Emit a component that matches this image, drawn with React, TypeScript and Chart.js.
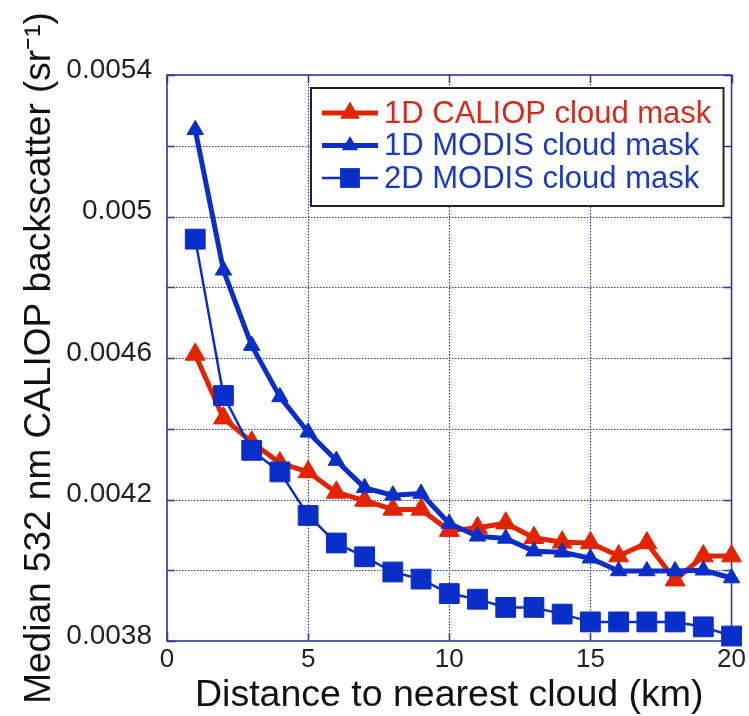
import React, { useEffect, useRef } from 'react';
import { Chart, registerables } from 'chart.js';

Chart.register(...registerables);

// ---- data ----
const distanceKm = [1, 2, 3, 4, 5, 6, 7, 8, 9, 10, 11, 12, 13, 14, 15, 16, 17, 18, 19, 20];
const caliop1D = [0.00461, 0.00443, 0.004362, 0.004303, 0.004278, 0.00422, 0.004197, 0.004172, 0.004172, 0.004112, 0.00412, 0.004133, 0.004092, 0.004079, 0.004077, 0.00404, 0.004077, 0.003972, 0.00404, 0.00404];
const modis1D = [0.005245, 0.004848, 0.004635, 0.00449, 0.00439, 0.00431, 0.004233, 0.004212, 0.004217, 0.004132, 0.004096, 0.00409, 0.004054, 0.004051, 0.004034, 0.003998, 0.003998, 0.003998, 0.004, 0.003978];
const modis2D = [0.004936, 0.004494, 0.004339, 0.004278, 0.004155, 0.004077, 0.004038, 0.003995, 0.003975, 0.003934, 0.003918, 0.003895, 0.003895, 0.003876, 0.003854, 0.003854, 0.003854, 0.003854, 0.00384, 0.003814];
const seriesLabels = ['1D CALIOP cloud mask', '1D MODIS cloud mask', '2D MODIS cloud mask'];
const yLabelledTicks = [0.0038, 0.0042, 0.0046, 0.005, 0.0054];
const xTitle = 'Distance to nearest cloud (km)';
const yTitle = 'Median 532 nm CALIOP backscatter (sr\u207B\u00B9)';

const RED = '#e32400';
const BLUE = '#0a2ec8';
const RED_TEXT = '#d62a1c';
const BLUE_TEXT = '#1b3cc0';
const FRAME = '#2b3a98';
const FONT = '"Liberation Sans", Arial, Helvetica, sans-serif';

function drawMarker(ctx: CanvasRenderingContext2D, style: string, x: number, y: number, r: number, color: string) {
  ctx.fillStyle = color;
  ctx.beginPath();
  if (style === 'triangle') {
    const h = Math.sin(Math.PI / 3) * r;
    ctx.moveTo(x, y - r);
    ctx.lineTo(x + h, y + r / 2);
    ctx.lineTo(x - h, y + r / 2);
    ctx.closePath();
  } else {
    const s = r * Math.SQRT1_2;
    ctx.rect(x - s, y - s, 2 * s, 2 * s);
  }
  ctx.fill();
}

const framePlugin = {
  id: 'frameGrid',
  beforeDatasetsDraw(chart: any) {
    const { ctx, chartArea: a, scales } = chart;
    const xs = scales.x;
    const ys = scales.y;
    ctx.save();
    // dotted grid
    ctx.strokeStyle = FRAME;
    ctx.lineWidth = 1.2;
    ctx.setLineDash([1.5, 1.5]);
    xs.ticks.forEach((t: any) => {
      if (t.value <= xs.min || t.value >= xs.max) return;
      const px = Math.round(xs.getPixelForValue(t.value)) + 0.5;
      ctx.beginPath();
      ctx.moveTo(px, a.top);
      ctx.lineTo(px, a.bottom);
      ctx.stroke();
    });
    ys.ticks.forEach((t: any) => {
      if (t.value <= ys.min + 1e-9 || t.value >= ys.max - 1e-9) return;
      const py = Math.round(ys.getPixelForValue(t.value)) + 0.5;
      ctx.beginPath();
      ctx.moveTo(a.left, py);
      ctx.lineTo(a.right, py);
      ctx.stroke();
    });
    ctx.setLineDash([]);
    // inward tick marks
    ctx.lineWidth = 1.5;
    const tl = 8;
    xs.ticks.forEach((t: any) => {
      const px = Math.round(xs.getPixelForValue(t.value)) + 0.5;
      ctx.beginPath();
      ctx.moveTo(px, a.top);
      ctx.lineTo(px, a.top + tl);
      ctx.moveTo(px, a.bottom);
      ctx.lineTo(px, a.bottom - tl);
      ctx.stroke();
    });
    ys.ticks.forEach((t: any) => {
      const py = Math.round(ys.getPixelForValue(t.value)) + 0.5;
      ctx.beginPath();
      ctx.moveTo(a.left, py);
      ctx.lineTo(a.left + tl, py);
      ctx.moveTo(a.right, py);
      ctx.lineTo(a.right - tl, py);
      ctx.stroke();
    });
    // frame
    ctx.lineWidth = 1.6;
    ctx.strokeRect(a.left, a.top, a.right - a.left, a.bottom - a.top);
    ctx.restore();
  },
};

const legendPlugin = {
  id: 'boxLegend',
  afterDatasetsDraw(chart: any) {
    const { ctx, chartArea: a } = chart;
    const left = a.left + 144;
    const top = a.top + 13;
    const right = a.right - 8;
    const rowH = 32.5;
    const n = chart.data.datasets.length;
    const height = 25 + (n - 1) * rowH + 28;
    ctx.save();
    ctx.fillStyle = '#ffffff';
    ctx.fillRect(left, top, right - left, height);
    ctx.strokeStyle = '#222222';
    ctx.lineWidth = 2;
    ctx.strokeRect(left, top, right - left, height);
    chart.data.datasets.forEach((ds: any, i: number) => {
      const y = top + 25 + i * rowH;
      ctx.strokeStyle = ds.borderColor;
      ctx.lineWidth = ds.borderWidth;
      ctx.beginPath();
      ctx.moveTo(left + 11, y);
      ctx.lineTo(left + 67, y);
      ctx.stroke();
      drawMarker(ctx, ds.pointStyle, left + 39, y, ds.pointRadius, ds.borderColor);
      ctx.fillStyle = ds.legendTextColor;
      ctx.font = `31px ${FONT}`;
      ctx.textAlign = 'left';
      ctx.textBaseline = 'middle';
      ctx.fillText(ds.label, left + 73, y + 1);
    });
    ctx.restore();
  },
};

function toPoints(values: number[]) {
  return distanceKm.map((d, i) => ({ x: d, y: values[i] }));
}

export default function App() {
  const ref = useRef<HTMLCanvasElement | null>(null);

  useEffect(() => {
    if (!ref.current) return;
    const chart = new Chart(ref.current, {
      type: 'line',
      data: {
        datasets: [
          {
            label: seriesLabels[0],
            data: toPoints(caliop1D),
            borderColor: RED,
            backgroundColor: RED,
            borderWidth: 5,
            pointStyle: 'triangle',
            pointRadius: 11.5,
            pointBorderWidth: 1,
            pointBackgroundColor: RED,
            pointBorderColor: RED,
            borderJoinStyle: 'round',
            clip: false,
            order: 3,
            legendTextColor: RED_TEXT,
          } as any,
          {
            label: seriesLabels[1],
            data: toPoints(modis1D),
            borderColor: BLUE,
            backgroundColor: BLUE,
            borderWidth: 5,
            pointStyle: 'triangle',
            pointRadius: 9.5,
            pointBorderWidth: 1,
            pointBackgroundColor: BLUE,
            pointBorderColor: BLUE,
            borderJoinStyle: 'round',
            clip: false,
            order: 2,
            legendTextColor: BLUE_TEXT,
          } as any,
          {
            label: seriesLabels[2],
            data: toPoints(modis2D),
            borderColor: BLUE,
            backgroundColor: BLUE,
            borderWidth: 2.5,
            pointStyle: 'rect',
            pointRadius: 14,
            pointBorderWidth: 1,
            pointBackgroundColor: BLUE,
            pointBorderColor: BLUE,
            borderJoinStyle: 'round',
            clip: false,
            order: 1,
            legendTextColor: BLUE_TEXT,
          } as any,
        ],
      },
      options: {
        animation: false,
        responsive: false,
        layout: { padding: { top: 75, right: 15, left: 0, bottom: 0 } },
        plugins: {
          legend: { display: false },
          tooltip: { enabled: false },
        },
        scales: {
          x: {
            type: 'linear',
            min: 0,
            max: 20,
            grid: { display: false, drawTicks: false },
            border: { display: false },
            ticks: {
              stepSize: 5,
              padding: 3,
              color: '#222222',
              font: { family: FONT, size: 26, lineHeight: 1.2 },
              maxRotation: 0,
            },
            title: {
              display: true,
              text: xTitle,
              color: '#111111',
              font: { family: FONT, size: 37.5, lineHeight: 1.1 },
              padding: { top: 0, bottom: 0 },
            },
            afterFit(scale: any) {
              scale.height = 75;
            },
          },
          y: {
            type: 'linear',
            min: 0.0038,
            max: 0.0054,
            grid: { display: false, drawTicks: false },
            border: { display: false },
            ticks: {
              stepSize: 0.0002,
              padding: 15,
              labelOffset: -5,
              color: '#222222',
              font: { family: FONT, size: 28, lineHeight: 1.2 },
              callback(value: any) {
                const v = Number(value);
                const hit = yLabelledTicks.find((t) => Math.abs(t - v) < 1e-9);
                return hit === undefined ? '' : String(hit);
              },
            },
            title: {
              display: true,
              text: yTitle,
              color: '#111111',
              font: { family: FONT, size: 37, lineHeight: 1.2 },
              padding: { top: 18, bottom: 0 },
            },
            afterFit(scale: any) {
              scale.width = 167;
            },
          },
        },
      } as any,
      plugins: [framePlugin, legendPlugin],
    });
    return () => chart.destroy();
  }, []);

  return (
    <div style={{ position: 'fixed', left: 0, top: 0, width: 749, height: 716, background: '#ffffff' }}>
      <canvas ref={ref} width={749} height={716} style={{ display: 'block', width: 749, height: 716 }} />
    </div>
  );
}
